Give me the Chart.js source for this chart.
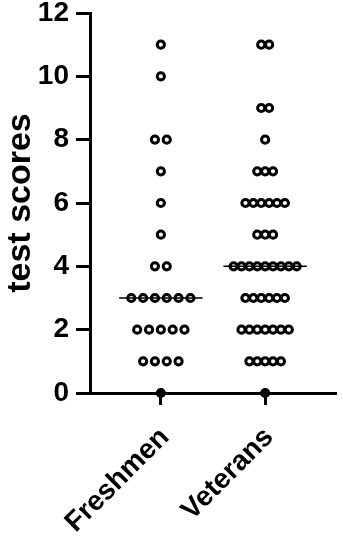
<!DOCTYPE html>
<html>
<head>
<meta charset="utf-8">
<script src="https://cdn.jsdelivr.net/npm/chart.js@4/dist/chart.umd.min.js"></script>
<style>
  html, body { margin: 0; padding: 0; background: #ffffff; }
  #wrap { width: 343px; height: 536px; position: relative; }
</style>
</head>
<body>
<div id="wrap"><canvas id="c" width="343" height="536"></canvas></div>
<script>
// ---- data ----
const categories = ['Freshmen', 'Veterans'];
const scoreLevels = [0, 1, 2, 3, 4, 5, 6, 7, 8, 9, 10, 11];
const freshmenCounts = [1, 4, 5, 6, 2, 1, 1, 1, 2, 0, 1, 1];
const veteranCounts  = [1, 5, 7, 6, 9, 3, 6, 3, 1, 2, 0, 2];
const yTicks = [0, 2, 4, 6, 8, 10, 12];

const groups = [freshmenCounts, veteranCounts];

// column scatter layout (Prism style): spread equal values horizontally
const COL_WIDTH = 0.68;
function scatterPoints(counts, catIndex) {
  const maxN = Math.max(...counts);
  const spacing = COL_WIDTH / maxN;
  const pts = [];
  counts.forEach((n, k) => {
    for (let i = 0; i < n; i++) {
      pts.push({ x: catIndex + 1 + (i - (n - 1) / 2) * spacing, y: scoreLevels[k] });
    }
  });
  return pts;
}
function median(counts) {
  const vals = [];
  counts.forEach((n, k) => { for (let i = 0; i < n; i++) vals.push(scoreLevels[k]); });
  vals.sort((a, b) => a - b);
  const m = Math.floor(vals.length / 2);
  return vals.length % 2 ? vals[m] : (vals[m - 1] + vals[m]) / 2;
}

const medianSets = groups.map((counts, ci) => {
  const m = median(counts);
  return {
    type: 'scatter',
    data: [{ x: ci + 1 - 0.4, y: m }, { x: ci + 1 + 0.4, y: m }],
    showLine: true,
    borderColor: '#000',
    borderWidth: 1.5,
    pointRadius: 0,
    clip: false
  };
});
const pointSets = groups.map((counts, ci) => ({
  type: 'scatter',
  data: scatterPoints(counts, ci),
  pointRadius: 3.6,
  pointBorderWidth: 3,
  borderColor: '#000',
  pointBorderColor: '#000',
  pointBackgroundColor: ctx => (ctx.raw && ctx.raw.y === 0) ? '#000' : '#fff',
  showLine: false,
  clip: false
}));

const FONT = '"Liberation Sans", Arial, sans-serif';

new Chart(document.getElementById('c'), {
  type: 'scatter',
  data: { datasets: [...medianSets, ...pointSets] },
  options: {
    responsive: false,
    animation: false,
    devicePixelRatio: 1,
    layout: { padding: { top: 13, right: 6, left: 0, bottom: 0 } },
    plugins: { legend: { display: false }, tooltip: { enabled: false } },
    scales: {
      x: {
        type: 'linear',
        min: 1 - 72 / 106,
        max: 2 + 72 / 106,
        afterBuildTicks: s => { s.ticks = categories.map((c, i) => ({ value: i + 1 })); },
        afterFit: s => { s.height = 143; s.paddingLeft = 0; s.paddingRight = 0; },
        ticks: {
          callback: (v) => categories[v - 1] || '',
          minRotation: 45,
          maxRotation: 45,
          color: '#000',
          padding: 16,
          labelOffset: 4,
          font: { family: FONT, size: 28, weight: 'bold' }
        },
        grid: { drawOnChartArea: false, drawTicks: true, tickLength: 12, tickWidth: 3, tickColor: '#000' },
        border: { display: true, color: '#000', width: 3 }
      },
      y: {
        min: 0,
        max: 12,
        afterBuildTicks: s => { s.ticks = yTicks.map(v => ({ value: v })); },
        afterFit: s => { s.width = 90; s.paddingTop = 0; s.paddingBottom = 0; },
        ticks: {
          color: '#000',
          padding: 7,
          font: { family: FONT, size: 28, weight: 'bold' }
        },
        grid: { drawOnChartArea: false, drawTicks: true, tickLength: 14, tickWidth: 3, tickColor: '#000' },
        border: { display: true, color: '#000', width: 3 },
        title: {
          display: true,
          text: 'test scores',
          color: '#000',
          padding: 0,
          font: { family: FONT, size: 34, weight: 'bold' }
        }
      }
    }
  }
});
</script>
</body>
</html>
